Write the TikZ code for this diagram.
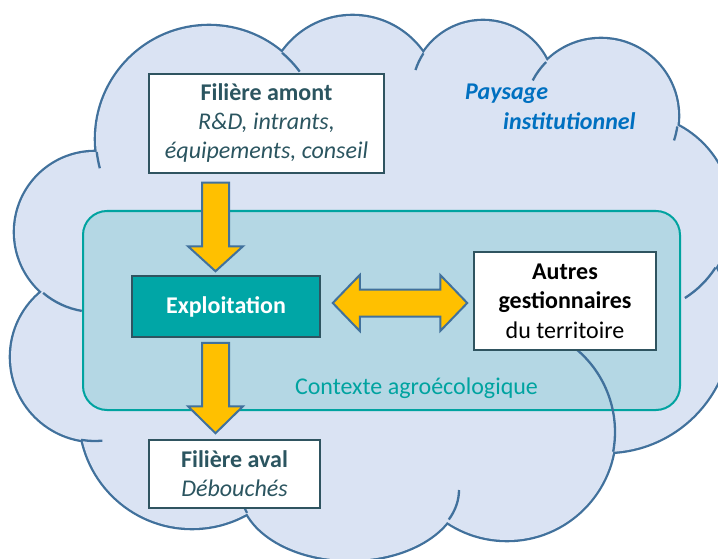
\documentclass[tikz,border=0pt]{standalone}
\usepackage{fontspec}
\setmainfont{Carlito}
\usetikzlibrary{calc}
\definecolor{cloudfill}{RGB}{218,227,243}
\definecolor{cloudline}{RGB}{65,113,156}
\definecolor{ctxfill}{RGB}{180,215,228}
\definecolor{ctxline}{RGB}{0,163,160}
\definecolor{explfill}{RGB}{0,166,166}
\definecolor{boxline}{RGB}{47,84,96}
\definecolor{boxtext}{RGB}{43,85,96}
\definecolor{gold}{RGB}{255,192,0}
\definecolor{paysage}{RGB}{0,112,192}
\begin{document}
\begin{tikzpicture}[x=1pt,y=-1pt,
  tick/.style={draw=cloudline, line width=2.3},
  box/.style={draw=boxline, line width=1.5, fill=white, inner sep=0, align=center, text=boxtext, font=\fontsize{24}{29}\selectfont},
  garrow/.style={fill=gold, draw=cloudline, line width=2, line join=miter},
  lbl/.style={inner sep=0, font=\fontsize{24}{29}\selectfont}]
\useasboundingbox (0,0) rectangle (718,559);
\clip (0,0) rectangle (718,559);
% cloud: union of lobes, outline = outer half of a double-width stroke
\foreach \cx/\cy/\r in {209/139/113, 352.5/101.7/85.7, 483/92/71, 601/116/77, 631.8/214/99.4, 605.5/327/125, 507/432/108, 192/416/112, 95/357/84, 95/232/80}
  \draw[cloudline, line width=4.6] (\cx,\cy) circle[radius=\r];
\draw[cloudline, line width=4.6] (350,490) ellipse[x radius=109, y radius=70];
\foreach \cx/\cy/\r in {209/139/113, 352.5/101.7/85.7, 483/92/71, 601/116/77, 631.8/214/99.4, 605.5/327/125, 507/432/108, 192/416/112, 95/357/84, 95/232/80}
  \fill[cloudfill] (\cx,\cy) circle[radius=\r];
\fill[cloudfill] (350,490) ellipse[x radius=109, y radius=70];
\fill[cloudfill] (97,152) -- (282,53) -- (423,53) -- (547,62) -- (678,126) -- (715.5,267.6) -- (613,452) -- (447,522) -- (247,513) -- (82.6,440) -- (42,292) -- cycle;
% inner arcs of the cloud
\draw[tick] (209,139) ++(173.4:113) arc[start angle=173.4, end angle=165, radius=113];
\draw[tick] (209,139) ++(-49.7:113) arc[start angle=-49.7, end angle=-36.6, radius=113];
\draw[tick] (483,92) ++(-147:71) arc[start angle=-147, end angle=-162, radius=71];
\draw[tick] (601,116) ++(-135.5:77) arc[start angle=-135.5, end angle=-152.5, radius=77];
\draw[tick] (601,116) ++(7.8:77) arc[start angle=7.8, end angle=18.5, radius=77];
\draw[tick] (631.8,214) ++(32.6:99.4) arc[start angle=32.6, end angle=57.7, radius=99.4];
\draw[tick] (350,490) ++(25:109 and 70) arc[start angle=25, end angle=0, x radius=109, y radius=70];
\draw[tick] (350,490) ++(160.9:109 and 70) arc[start angle=160.9, end angle=167, x radius=109, y radius=70];
\draw[tick] (95,357) ++(99.5:84) arc[start angle=99.5, end angle=85, radius=84];
\draw[tick] (95,232) ++(130.4:80) arc[start angle=130.4, end angle=99.5, radius=80];
% context
\node[draw=ctxline, line width=2, fill=ctxfill, rounded corners=24, minimum width=597, minimum height=199, inner sep=0] (ctx) at (381.5,310.5) {};
\draw[tick] (507,432) ++(10.5:108) arc[start angle=10.5, end angle=-50, radius=108];
\node[lbl, anchor=base, text=ctxline] (ctxlabel) at (416.5,394) {Contexte agroécologique};
% institutional landscape
\node[lbl, anchor=base west, text=paysage, font=\fontsize{24}{29}\selectfont\bfseries\itshape] (pay1) at (465,100) {Paysage};
\node[lbl, anchor=base west, text=paysage, font=\fontsize{24}{29}\selectfont\bfseries\itshape] (pay2) at (503,130) {institutionnel};
% boxes
\node[box, minimum width=235, minimum height=99] (amont) at (266.5,123.5) {\textbf{Filière amont}\\\textit{R\&D, intrants,}\\\textit{équipements, conseil}};
\node[box, fill=explfill, text=white, minimum width=188, minimum height=61, font=\fontsize{24}{29}\selectfont\bfseries] (expl) at (226,306.5) {Exploitation};
\node[box, minimum width=171, minimum height=68] (aval) at (234.5,474) {\textbf{Filière aval}\\\textit{Débouchés}};
\node[box, text=black, minimum width=182, minimum height=98, font=\fontsize{24}{29.5}\selectfont] (autres) at (565,301) {\textbf{Autres}\\\textbf{gestionnaires}\\du territoire};
% arrows
\coordinate (d1s) at ($(amont.south)+(-51,9)$);
\coordinate (d1e) at ($(expl.north)+(-10.5,-4)$);
\coordinate (d2s) at ($(expl.south)+(-10.5,5)$);
\coordinate (d2e) at ($(aval.north)+(-19,-6)$);
\coordinate (ds) at ($(expl.east)+(12,-3.5)$);
\coordinate (de) at ($(autres.west)+(-6,2)$);
\draw[garrow] let \p1=(d1s), \p2=(d1e) in (\x1-13.5pt,\y1) -- (\x1+13.5pt,\y1) -- (\x1+13.5pt,\y2+25pt) -- (\x1+27.5pt,\y2+25pt) -- (\x2,\y2) -- (\x1-27.5pt,\y2+25pt) -- (\x1-13.5pt,\y2+25pt) -- cycle;
\draw[garrow] let \p1=(d2s), \p2=(d2e) in (\x1-13.5pt,\y1) -- (\x1+13.5pt,\y1) -- (\x1+13.5pt,\y2+27pt) -- (\x1+27.5pt,\y2+27pt) -- (\x2,\y2) -- (\x1-27.5pt,\y2+27pt) -- (\x1-13.5pt,\y2+27pt) -- cycle;
\draw[garrow] let \p1=(ds), \p2=(de) in (\x1,\y1) -- (\x1+27pt,\y1+28pt) -- (\x1+27pt,\y1+13.5pt) -- (\x2-27pt,\y1+13.5pt) -- (\x2-27pt,\y1+28pt) -- (\x2,\y2) -- (\x2-27pt,\y1-28pt) -- (\x2-27pt,\y1-13.5pt) -- (\x1+27pt,\y1-13.5pt) -- (\x1+27pt,\y1-28pt) -- cycle;
\end{tikzpicture}
\end{document}
